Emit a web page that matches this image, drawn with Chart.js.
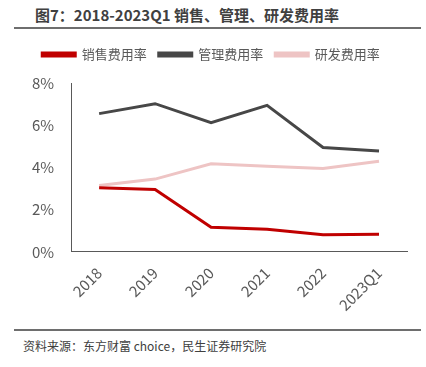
<!DOCTYPE html>
<html>
<head>
<meta charset="utf-8">
<script src="https://cdn.jsdelivr.net/npm/chart.js@4.4.0/dist/chart.umd.min.js"></script>
<style>
    html, body { margin: 0; padding: 0; background: #fff; }
    body { width: 426px; height: 367px; position: relative; overflow: hidden; font-family: "Noto Sans CJK SC", "Noto Sans", sans-serif; }
    .title { position: absolute; left: 35px; top: 4px; font-size: 15px; font-weight: bold; color: #404040; white-space: nowrap; }
    .rule { position: absolute; left: 14px; width: 407px; height: 2px; background: #6e6e6e; }
    .source { position: absolute; left: 23px; top: 337px; font-size: 12px; color: #404040; white-space: nowrap; }
    .chart-box { position: absolute; left: 0; top: 36px; width: 426px; height: 290px; }
</style>
</head>
<body>
<div class="title">图7：2018-2023Q1 销售、管理、研发费用率</div>
<div class="rule" style="top: 27px;"></div>
<div class="chart-box"><canvas id="rateChart"></canvas></div>
<div class="rule" style="top: 329px;"></div>
<div class="source">资料来源：东方财富 choice，民生证券研究院</div>

<script>
// ============================================================================
// Data
// ============================================================================

const categories = ['2018', '2019', '2020', '2021', '2022', '2023Q1'];
const salesRate = [3.04, 2.96, 1.17, 1.08, 0.81, 0.84];
const adminRate = [6.55, 7.02, 6.12, 6.94, 4.95, 4.78];
const rndRate = [3.15, 3.45, 4.18, 4.06, 3.95, 4.30];
const yTicks = [0, 2, 4, 6, 8];

// ============================================================================
// Chart
// ============================================================================

function makeLine(label, data, color) {
    return {
        label: label,
        data: data,
        borderColor: color,
        backgroundColor: color,
        borderWidth: 3,
        pointRadius: 0,
        tension: 0,
        fill: false
    };
}

// extra room under the legend
const legendGap = {
    id: 'legendGap',
    beforeInit(chart) {
        const origFit = chart.legend.fit;
        chart.legend.fit = function() {
            origFit.bind(chart.legend)();
            this.height += 12;
        };
    }
};

const ctx = document.getElementById('rateChart').getContext('2d');
new Chart(ctx, {
    type: 'line',
    data: {
        labels: categories,
        datasets: [
            makeLine('销售费用率', salesRate, '#C00000'),
            makeLine('管理费用率', adminRate, '#474747'),
            makeLine('研发费用率', rndRate, '#EEC4C4')
        ]
    },
    options: {
        responsive: true,
        maintainAspectRatio: false,
        animation: false,
        layout: {
            padding: { left: 15, right: 19, top: 0, bottom: 0 }
        },
        plugins: {
            legend: {
                position: 'top',
                labels: {
                    boxWidth: 33,
                    boxHeight: 3,
                    padding: 12,
                    color: '#595959',
                    font: { size: 13, family: '"Noto Sans CJK SC", sans-serif' }
                }
            },
            tooltip: { enabled: false }
        },
        scales: {
            x: {
                offset: true,
                grid: { display: false, drawTicks: false },
                border: { display: true, color: '#595959', width: 1 },
                ticks: {
                    color: '#595959',
                    maxRotation: 45,
                    minRotation: 45,
                    padding: 12,
                    font: { size: 15, family: '"Noto Sans CJK SC", sans-serif' }
                }
            },
            y: {
                min: 0,
                max: 8,
                afterBuildTicks: function(axis) {
                    axis.ticks = yTicks.map(v => ({ value: v }));
                },
                grid: { display: false, drawTicks: false },
                border: { display: true, color: '#595959', width: 1 },
                ticks: {
                    color: '#595959',
                    padding: 17,
                    callback: v => v + '%',
                    font: { size: 15, family: '"Noto Sans CJK SC", sans-serif' }
                }
            }
        }
    },
    plugins: [legendGap]
});
</script>
</body>
</html>
